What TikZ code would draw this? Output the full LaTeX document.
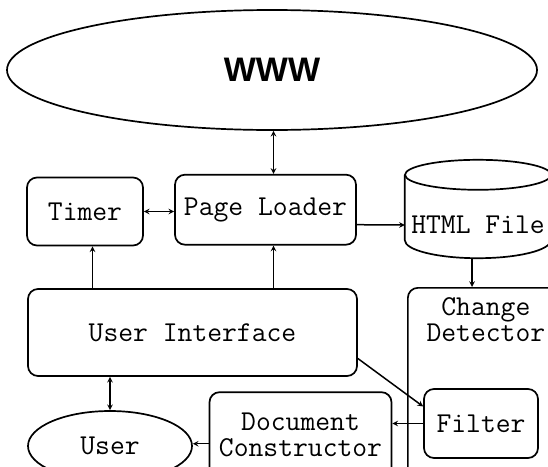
\documentclass[tikz,border=0pt]{standalone}
\usepackage{fontspec}
\newfontfamily\headfont{Liberation Sans}
\usepackage{tikz}
\usetikzlibrary{shapes.geometric, positioning}
\tikzstyle{process} = [rectangle, rounded corners=10pt, text centered, align=center, draw=black, line width=1.7pt, font=\fontsize{28.8}{26}\ttfamily]
\tikzstyle{actor} = [ellipse, draw=black, line width=1.7pt, font=\fontsize{28.8}{26}\ttfamily]
\tikzstyle{store} = [rectangle, text centered, font=\fontsize{28.8}{26}\ttfamily]
\tikzstyle{drum} = [draw=black, line width=1.7pt]
\tikzstyle{link} = [line width=1.5pt]

\begin{document}
\begin{tikzpicture}[x=1pt, y=-1pt]
		\useasboundingbox (0,0) rectangle (548,466);
		\node (WWW)[ellipse, draw=black, line width=1.7pt, minimum width=530pt, minimum height=120pt, font=\headfont\bfseries\fontsize{34}{36}\selectfont] at (272,70) {WWW};
		\node (Timer)[process, minimum width=116pt, minimum height=68pt] at (85,211.5) {Timer};
		\node (Page Loader)[process, minimum width=181pt, minimum height=70pt] at (265.5,209.7) {Page Loader};
		\node (HTML File)[store, minimum width=146pt, minimum height=66pt] at (478,225) {HTML File};
		% drum round the file name: top cap, sides and bottom arc
		\draw [drum] ([yshift=17pt]HTML File.north) ellipse [x radius=73pt, y radius=15pt];
		\draw [drum] ([yshift=17pt]HTML File.north west) -- ([yshift=18pt]HTML File.south west)
			arc [start angle=180, end angle=360, x radius=73pt, y radius=18pt] -- ([yshift=17pt]HTML File.north east);
		\node (User Interface)[process, minimum width=329pt, minimum height=87pt] at (192.5,332.5) {User Interface};
		\node (Change Detector)[process, minimum width=156pt, minimum height=192pt, anchor=north west] at (407,287) {};
		\node (Detector Name)[align=center, font=\fontsize{28.8}{26}\ttfamily, below = 7pt of Change Detector.north] {Change\\Detector};
		\node (Filter)[process, minimum width=114pt, minimum height=69pt] at (481,423.5) {Filter};
		\node (Document Constructor)[process, minimum width=182pt, minimum height=85pt] at (300.5,434.7) {Document\\Constructor};
		\node (User)[actor, minimum width=164pt, minimum height=70pt] at (110,446) {User};
		\draw [link, stealth-stealth] ([xshift=8pt]Page Loader.north) -- ([xshift=8pt]Page Loader.north |- WWW.south);
		\draw [link, stealth-stealth] (Timer.east) -- (Timer.east -| Page Loader.west);
		\draw [link, -stealth] ([yshift=-15pt]Page Loader.east) -- (HTML File.west);
		\draw [link, -stealth] ([xshift=-6pt]HTML File.south) -- ([xshift=-6pt]HTML File.south |- Change Detector.north);
		\draw [link, -stealth] ([xshift=7.5pt]Timer.south |- User Interface.north) -- ([xshift=7.5pt]Timer.south);
		\draw [link, -stealth] ([xshift=8pt]Page Loader.south |- User Interface.north) -- ([xshift=8pt]Page Loader.south);
		\draw [link, stealth-stealth] (User.north) -- (User.north |- User Interface.south);
		\draw [link, -stealth] ([yshift=-26pt]User Interface.east) -- ([yshift=17pt]Filter.west);
		\draw [link, -stealth] (Filter.west) -- (Filter.west -| Document Constructor.east);
		\draw [link, -stealth] ([yshift=-9pt]Document Constructor.west) -- ([yshift=-9pt]Document Constructor.west -| User.east);
	\end{tikzpicture}
\end{document}
